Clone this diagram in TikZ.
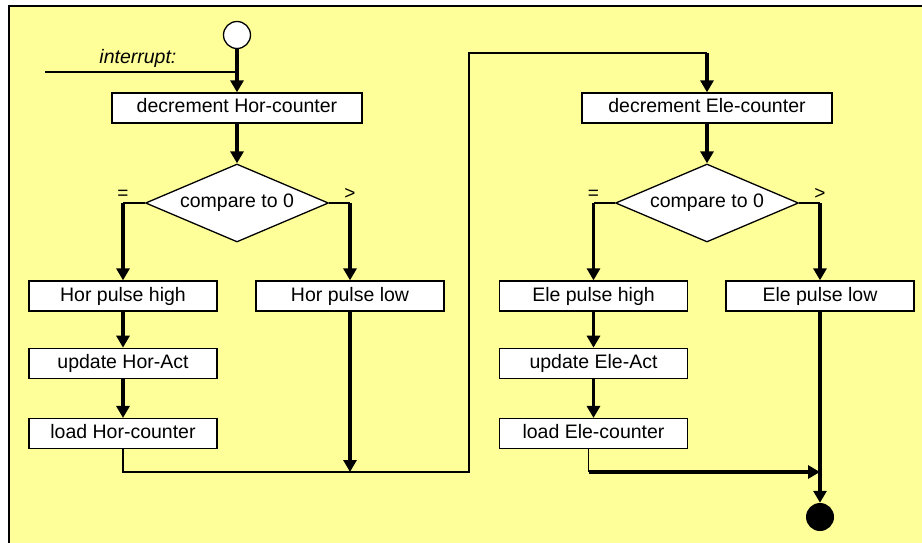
\documentclass[tikz,border=0pt]{standalone}
\usepackage{fontspec}
\setmainfont{Liberation Sans}
\usetikzlibrary{positioning,arrows.meta,shapes.geometric}
\definecolor{sheet}{HTML}{FFFF99}

\begin{document}
\begin{tikzpicture}[x=1pt, y=1pt,
  box/.style={draw=black, line width=1.3pt, fill=white, minimum width=#1, minimum height=30pt, inner sep=0pt, text height=14pt, text depth=4pt, font=\fontsize{19.5}{22}\selectfont},
  box/.default=188pt,
  test/.style={diamond, aspect=2.35, draw=black, line width=1.3pt, fill=white, minimum width=183pt, minimum height=78pt, inner sep=0pt, font=\fontsize{19.5}{22}\selectfont},
  flow/.style={line width=3.2pt, -{Triangle[length=12pt,width=13pt]}},
  wire/.style={line width=1.4pt},
  lbl/.style={font=\fontsize{19}{22}\selectfont, inner sep=0pt, above=3pt}]
\useasboundingbox (0,0) rectangle (922,-543);
\fill[sheet] (9,-6) rectangle (922,-543);
\draw[line width=2.4pt, line join=miter] (922,-6) -- (9,-6) -- (9,-543);

\node[circle, draw, line width=1.3pt, fill=white, minimum size=27pt, inner sep=0pt] (start) at (237,-35) {};
\node[box=250pt] (hdec) at (237,-108) {decrement Hor-counter};
\node[test] (hcmp) at (237,-203) {compare to 0};
\node[box] (hhigh) at (123,-296) {Hor pulse high};
\node[box, below=36pt of hhigh] (hupd) {update Hor-Act};
\node[box, below=39pt of hupd] (hload) {load Hor-counter};
\node[box] (hlow) at (350,-296) {Hor pulse low};

\node[box=250pt] (edec) at (707,-108) {decrement Ele-counter};
\node[test] (ecmp) at (707,-203) {compare to 0};
\node[box] (ehigh) at (593.5,-296) {Ele pulse high};
\node[box, below=36pt of ehigh] (eupd) {update Ele-Act};
\node[box, below=39pt of eupd] (eload) {load Ele-counter};
\node[box] (elow) at (820,-296) {Ele pulse low};
\node[circle, fill=black, minimum size=28pt, inner sep=0pt] (stop) at (820,-517) {};

\coordinate (irq) at (45,-72);
\coordinate (heq) at (hcmp.west -| hhigh);
\coordinate (hgt) at (hcmp.east -| hlow);
\coordinate (eeq) at (ecmp.west -| ehigh);
\coordinate (egt) at (ecmp.east -| elow);
\coordinate (hjoin) at (350,-472);
\coordinate (hturn) at (469,-472);
\coordinate (eturn) at (469,-53);
\coordinate (etop) at (edec.north |- eturn);
\coordinate (ejoin) at (elow |- hjoin);
\coordinate (eknee) at ([xshift=-5pt]eload.south |- hjoin);

\draw[wire] (irq) -- (irq -| start) node[pos=0.484, above=4pt, inner sep=0pt, font=\fontsize{19.5}{22}\selectfont\itshape] {interrupt:};
\foreach \a/\b in {start/hdec, hdec/hcmp, hhigh/hupd, hupd/hload, edec/ecmp, ehigh/eupd, eupd/eload, elow/stop} \draw[flow] (\a) -- (\b);
\draw[wire] (hcmp.west) -- (heq) node[lbl] {=};
\draw[wire] (hcmp.east) -- (hgt) node[lbl] {>};
\draw[wire] (ecmp.west) -- (eeq) node[lbl] {=};
\draw[wire] (ecmp.east) -- (egt) node[lbl] {>};
\foreach \a/\b in {heq/hhigh, hgt/hlow, eeq/ehigh, egt/elow} \draw[flow] (\a) -- (\b);
\draw[flow] (hlow) -- (hjoin);
\draw[wire] (hload.south) |- (hturn) |- (etop);
\draw[flow] (etop) -- (edec);
\draw[wire] ([xshift=-5pt]eload.south) -- (eknee);
\draw[flow] (eknee) -- (ejoin);
\end{tikzpicture}
\end{document}
